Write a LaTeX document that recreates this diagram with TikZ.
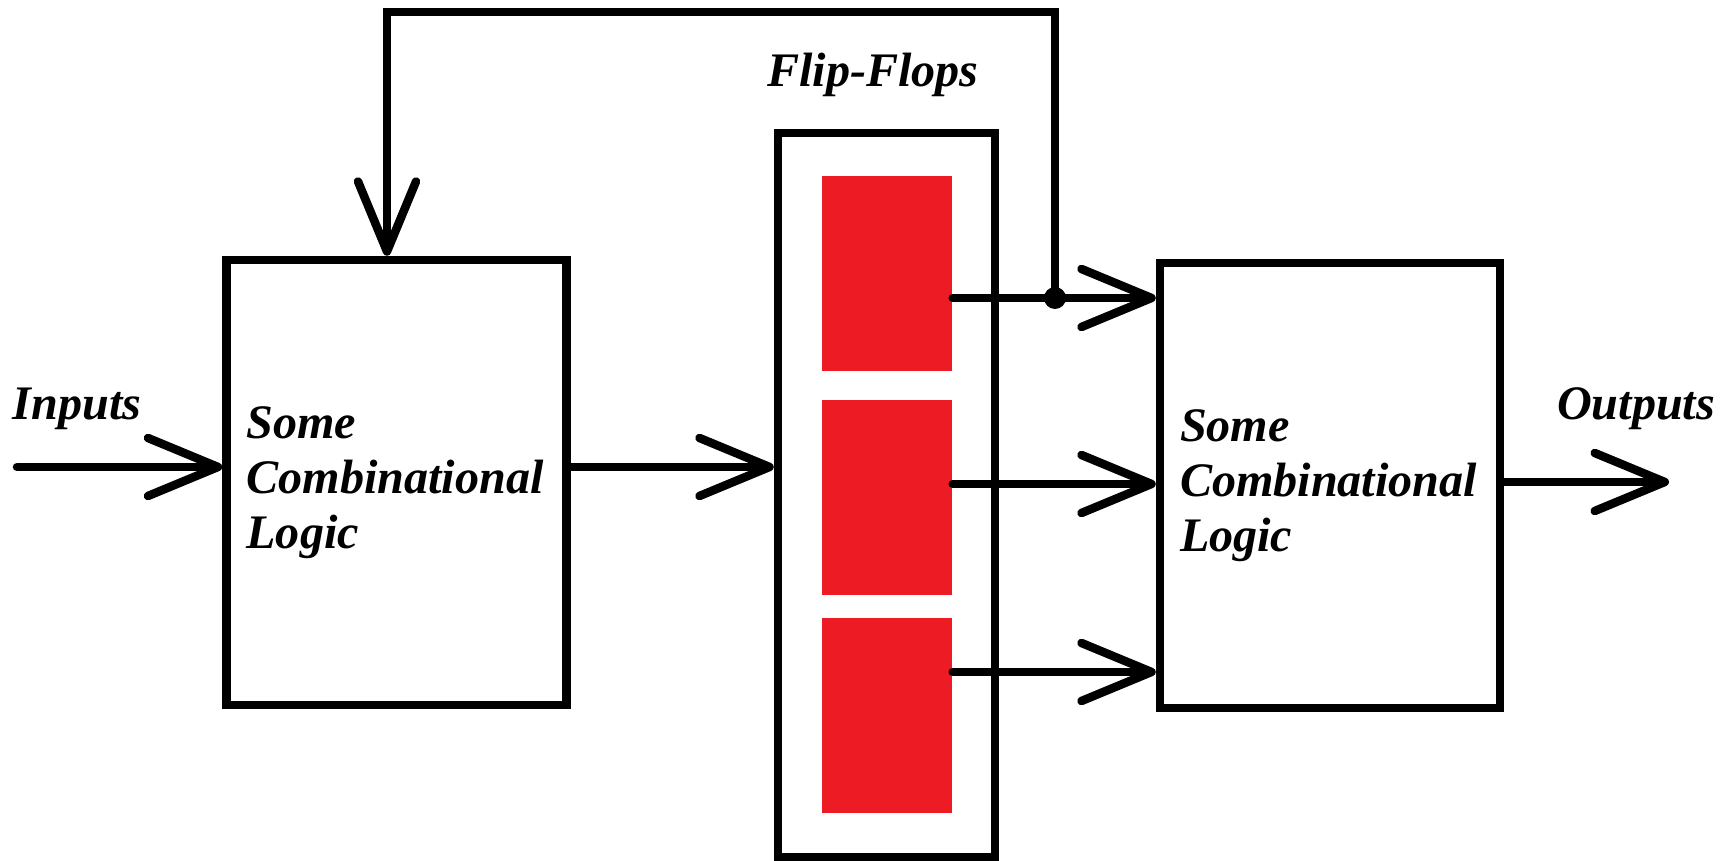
\documentclass[tikz,border=0pt]{standalone}
\usepackage{fontspec}
\setmainfont{Liberation Serif}
\usetikzlibrary{arrows.meta, calc, positioning}

\begin{document}
\begin{tikzpicture}[>={Straight Barb[length=0.7cm, width=0.58cm, round]},
    font=\fontsize{13.7}{15.6}\selectfont\bfseries\itshape,
    wire/.style={line width=0.085cm, line cap=round},
    logic/.style={draw, line width=0.085cm, fill=white, minimum height=4.45cm, text width=3cm, inner xsep=0.2cm, align=left},
    ff/.style={fill=ffred, minimum width=1.3cm, minimum height=1.95cm, inner sep=0pt}]
\definecolor{ffred}{RGB}{237,28,36}
\useasboundingbox[fill=white] (0,0) rectangle (17.33,8.61);

\node[logic] (lb) at (3.965,3.785) {Some\\Combinational\\Logic};
\node[logic] (rb) at (13.30,3.755) {Some\\Combinational\\Logic};
\node[draw, line width=0.085cm, minimum width=2.17cm, minimum height=7.24cm] (ffbox) at (8.865,3.66) {};
\node[ff] (ff1) at (8.87,5.875) {};
\node[ff] (ff2) at (8.87,3.635) {};
\node[ff] (ff3) at (8.87,1.455) {};

\node (inl) at (0.77,4.52) {Inputs};
\node (ffl) at (8.73,7.86) {Flip-Flops};
\node (outl) at (16.36,4.52) {Outputs};

\coordinate (in) at (0.17,3.94);
\coordinate (out) at (16.69,3.79);
\coordinate (o1) at (rb.west |- 0,5.63);
\coordinate (o2) at (rb.west |- 0,3.77);
\coordinate (o3) at (rb.west |- 0,1.89);
\coordinate (tap) at (10.55,5.63);
\coordinate (fb) at (3.87,8.49);

\draw[wire, ->] (in) -- (in -| lb.west);
\draw[wire, ->] (lb.east |- in) -- (in -| ffbox.west);
\draw[wire, ->] (o1 -| ff1.east) -- (o1);
\draw[wire, ->] (o2 -| ff2.east) -- (o2);
\draw[wire, ->] (o3 -| ff3.east) -- (o3);
\draw[wire, ->] (out -| rb.east) -- (out);
\draw[wire, ->] (tap) |- (fb) -- (fb |- lb.north);
\fill (tap) circle (0.11cm);

\end{tikzpicture}
\end{document}
